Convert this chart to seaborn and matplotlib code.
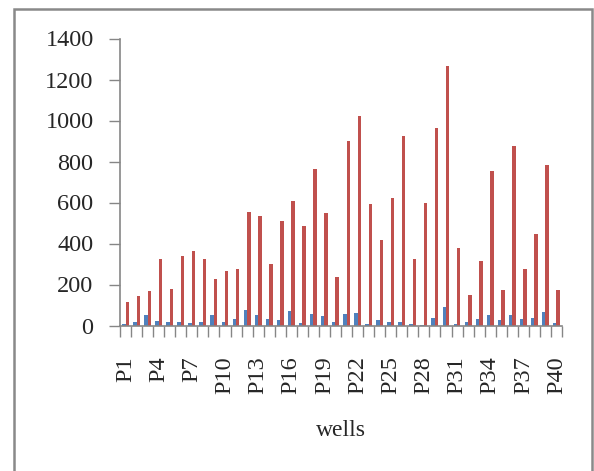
import numpy as np
import pandas as pd
import matplotlib
matplotlib.use("Agg")
import matplotlib.pyplot as plt
from matplotlib.patches import Rectangle
import seaborn as sns

wells = [f"P{i}" for i in range(1, 41)]
series_names = ["Series1", "Series2"]
series1 = [8, 18, 49, 20, 15, 18, 13, 15, 49, 18, 34, 75, 49, 31, 29, 73, 13, 57, 44, 15,
           57, 59, 5, 29, 15, 18, 6, 3, 39, 91, 5, 16, 34, 49, 29, 49, 31, 39, 68, 10]
series2 = [117, 142, 166, 326, 179, 337, 361, 326, 228, 264, 275, 552, 534, 301, 508, 606, 484, 765, 547, 239,
           902, 1022, 594, 415, 624, 923, 326, 599, 961, 1268, 379, 150, 313, 752, 171, 874, 275, 448, 783, 171]
y_ticks = [0, 200, 400, 600, 800, 1000, 1200, 1400]
x_label_step = 3

df = pd.DataFrame({
    "well": wells * 2,
    "series": [series_names[0]] * len(wells) + [series_names[1]] * len(wells),
    "value": series1 + series2,
})

sns.set_style("white")
plt.rcParams["font.family"] = ["Liberation Serif", "DejaVu Serif"]

W, H = 594, 471
fig = plt.figure(figsize=(W / 100, H / 100), dpi=100)
ax = fig.add_axes([120 / W, 1 - 325.5 / H, 442 / W, 287 / H])

sns.barplot(data=df, x="well", y="value", hue="series", order=wells,
            hue_order=series_names, palette=["#4F81BD", "#C0504D"],
            width=0.62, legend=False, ax=ax, saturation=1, edgecolor="none")

gray = "#868686"
ax.set_ylim(0, 1400)
ax.set_xlim(-0.5, len(wells) - 0.5)
ax.set_yticks(y_ticks)
ax.set_yticklabels([str(v) for v in y_ticks])
ax.tick_params(axis="y", which="major", length=8, width=1.0, color=gray,
               pad=11, labelsize=17.5, left=True, direction="out")

# x: major ticks at category boundaries, labels on minor ticks at centers
ax.set_xticks(np.arange(-0.5, len(wells), 1.0))
ax.set_xticklabels([])
ax.set_xticks(np.arange(0, len(wells), x_label_step), minor=True)
ax.set_xticklabels(wells[::x_label_step], minor=True, rotation=90)
ax.tick_params(axis="x", which="major", length=8, width=1.0, color=gray,
               bottom=True, direction="out")
ax.tick_params(axis="x", which="minor", length=0, pad=22, labelsize=17.5)

ax.set_ylabel("")
ax.set_xlabel("wells", fontsize=17)
ax.xaxis.set_label_coords(0.5, -0.33)
ax.xaxis.label.set_va("top")

for side in ["top", "right"]:
    ax.spines[side].set_visible(False)
for side in ["left", "bottom"]:
    ax.spines[side].set_color(gray)
    ax.spines[side].set_linewidth(1.2)

# chart area border
fig.patches.append(Rectangle((14 / W, -0.02), (591.5 - 14) / W, 1.02 - 9 / H,
                             transform=fig.transFigure, fill=False,
                             edgecolor="#898989", linewidth=1.8))

fig.savefig("out.png", dpi=100)
